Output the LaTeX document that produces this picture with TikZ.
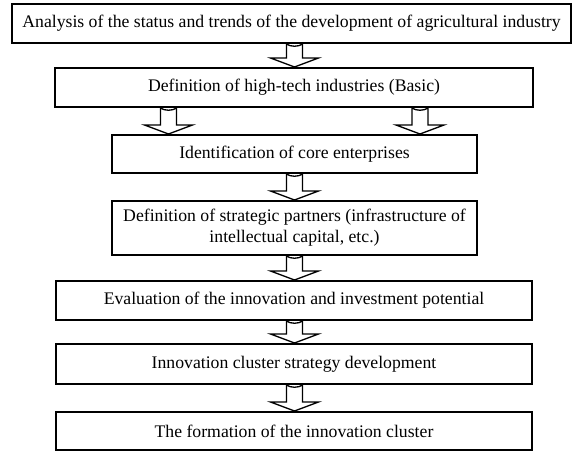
\documentclass[tikz,border=0pt]{standalone}
\usepackage{fontspec}
\setmainfont{Liberation Serif}
\usetikzlibrary{calc}
\tikzset{
  stagebox/.style={draw=black, line width=2bp, fill=white, inner sep=0pt,
    align=center, font=\fontsize{17.7bp}{21bp}\selectfont},
  barrow/.style={draw=black, line width=1.3bp, fill=white, line join=miter},
}
% #1 = x position (bp), #2 = upper node, #3 = lower node
\newcommand{\blockarrowdown}[3]{%
  \draw[barrow] let \p1=(#2.south), \p2=(#3.north) in
    ({(#1-8)*1bp},\y1) .. controls ({(#1-4)*1bp},{\y1-3bp}) and ({(#1+4)*1bp},{\y1-3bp}) .. ({(#1+8)*1bp},\y1)
    -- ({(#1+8)*1bp},{\y2+9bp}) -- ({(#1+24)*1bp},{\y2+9bp})
    -- ({#1*1bp},\y2) -- ({(#1-24)*1bp},{\y2+9bp})
    -- ({(#1-8)*1bp},{\y2+9bp}) -- cycle;}
\begin{document}
\begin{tikzpicture}[x=1bp,y=-1bp]
\useasboundingbox (0,0) rectangle (573,453);
\node[stagebox, minimum width=559bp, minimum height=39bp] (b1) at (291.5,23.5)
  {Analysis of the status and trends of the development of agricultural industry};
\node[stagebox, minimum width=478bp, minimum height=39bp] (b2) at (294,87.5)
  {Definition of high-tech industries (Basic)};
\node[stagebox, minimum width=365bp, minimum height=38bp] (b3) at (294.5,154)
  {Identification of core enterprises};
\node[stagebox, minimum width=365bp, minimum height=54bp] (b4) at (294.5,228)
  {Definition of strategic partners (infrastructure of\\intellectual capital, etc.)};
\node[stagebox, minimum width=476bp, minimum height=39bp] (b5) at (294,300.5)
  {Evaluation of the innovation and investment potential};
\node[stagebox, minimum width=476bp, minimum height=40bp] (b6) at (294,364)
  {Innovation cluster strategy development};
\node[stagebox, minimum width=476bp, minimum height=38bp] (b7) at (294,431)
  {The formation of the innovation cluster};
\blockarrowdown{294.5}{b1}{b2}
\blockarrowdown{168.5}{b2}{b3}
\blockarrowdown{420}{b2}{b3}
\blockarrowdown{294.5}{b3}{b4}
\blockarrowdown{294.5}{b4}{b5}
\blockarrowdown{294.5}{b5}{b6}
\blockarrowdown{294.5}{b6}{b7}
\end{tikzpicture}
\end{document}
